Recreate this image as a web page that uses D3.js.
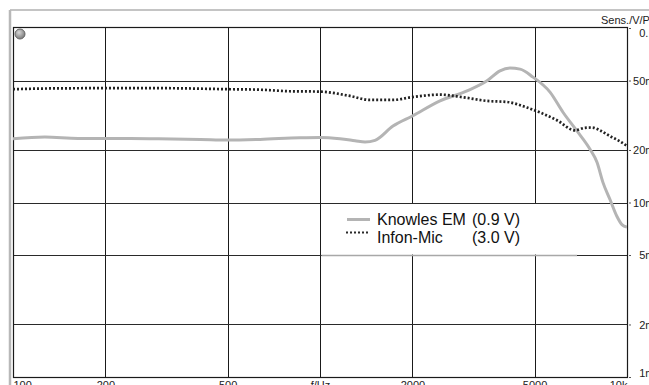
<!DOCTYPE html>
<html>
<head>
<meta charset="utf-8">
<script src="https://cdn.jsdelivr.net/npm/d3@7/dist/d3.min.js"></script>
<style>
  html, body { margin: 0; padding: 0; background: #fff; overflow: hidden; }
  svg { display: block; font-family: "Liberation Sans", Arial, sans-serif; }
</style>
</head>
<body>
<script>
// Frequency axis (Hz) and sensitivity axis (V/Pa)
const xTickValues = [100, 200, 500, 1000, 2000, 5000, 10000];
const xTickLabels = ["100", "200", "500", "f/Hz", "2000", "5000", "10k"];
const yTickValues = [0.001, 0.002, 0.005, 0.01, 0.02, 0.05, 0.1];
const yTickLabels = ["1m", "2m", "5m", "10m", "20m", "50m", "0.1"];

// Knowles EM electret capsule, 0.9 V supply
const knowlesFreq = [100, 127, 163, 200, 279, 407, 500, 638, 861, 1000, 1162, 1300, 1402, 1511, 1729, 2000, 2460, 3013, 3500, 3857, 4158, 4483, 4942, 5613, 6187, 6872, 7577, 7985, 8354, 8803, 9276, 9628, 10000];
const knowlesSens = [0.0232, 0.0237, 0.0233, 0.0233, 0.0232, 0.0230, 0.0228, 0.0230, 0.0235, 0.0236, 0.0232, 0.0226, 0.0222, 0.0227, 0.0274, 0.0313, 0.0382, 0.0436, 0.0498, 0.0568, 0.0589, 0.0581, 0.0523, 0.0429, 0.0329, 0.0257, 0.0202, 0.0170, 0.0130, 0.0104, 0.00831, 0.00747, 0.00723];

// Infon-Mic, 3.0 V supply
const infonFreq = [100, 127, 200, 301, 500, 638, 798, 1000, 1252, 1455, 1729, 1964, 2460, 2923, 3500, 4064, 4723, 5208, 5914, 6771, 7300, 7690, 8166, 8803, 9490, 10000];
const infonSens = [0.0446, 0.0450, 0.0452, 0.0452, 0.0446, 0.0443, 0.0434, 0.0432, 0.0408, 0.0387, 0.0387, 0.0400, 0.0415, 0.0401, 0.0382, 0.0377, 0.0350, 0.0328, 0.0296, 0.0259, 0.0268, 0.0269, 0.0259, 0.0240, 0.0224, 0.0211];

const seriesNames = ["Knowles EM", "Infon-Mic"];
const seriesVolts = ["(0.9 V)", "(3.0 V)"];

const W = 649, H = 385;
const plot = { left: 13, right: 627, top: 27, bottom: 377 };

const svg = d3.select("body").append("svg")
  .attr("width", W).attr("height", H);

const x = d3.scaleLog().domain([100, 10000]).range([plot.left, plot.right]);
const y = d3.scaleLog().domain([0.001, 0.1]).range([plot.bottom, 28]);

// window frame
svg.append("line").attr("x1", 10).attr("x2", W).attr("y1", 10).attr("y2", 10)
  .attr("stroke", "#b0b0b0").attr("stroke-width", 1.5);
svg.append("line").attr("x1", 10).attr("x2", 10).attr("y1", 10).attr("y2", H)
  .attr("stroke", "#b8b8b8").attr("stroke-width", 2.5);

// grid
const grid = svg.append("g");
grid.selectAll("line.v").data(xTickValues).join("line")
  .attr("x1", d => Math.round(x(d)) + 0.5).attr("x2", d => Math.round(x(d)) + 0.5)
  .attr("y1", plot.top).attr("y2", plot.bottom)
  .attr("stroke", "#1a1a1a").attr("stroke-width", 1);
grid.selectAll("line.h").data(yTickValues.slice(1, -1)).join("line")
  .attr("x1", plot.left).attr("x2", plot.right)
  .attr("y1", d => Math.round(y(d)) + 0.5).attr("y2", d => Math.round(y(d)) + 0.5)
  .attr("stroke", "#2a2a2a").attr("stroke-width", 1.2);
grid.append("rect")
  .attr("x", plot.left + 0.5).attr("y", plot.top + 0.5)
  .attr("width", plot.right - plot.left).attr("height", plot.bottom - plot.top)
  .attr("fill", "none").attr("stroke", "#1a1a1a").attr("stroke-width", 1.2);

// status indicator
const grad = svg.append("defs").append("radialGradient").attr("id", "led")
  .attr("cx", "40%").attr("cy", "35%").attr("r", "65%");
grad.append("stop").attr("offset", "0%").attr("stop-color", "#d8d8d8");
grad.append("stop").attr("offset", "100%").attr("stop-color", "#7a7a7a");
svg.append("circle").attr("cx", 20).attr("cy", 34).attr("r", 5)
  .attr("fill", "url(#led)").attr("stroke", "#666").attr("stroke-width", 1);

// legend background (covers the grid in its cell)
const legendX = x(1000) + 1.5, legendY = y(0.01) + 1.5;
svg.append("rect")
  .attr("x", legendX).attr("y", legendY)
  .attr("width", plot.right - legendX - 0.5).attr("height", y(0.005) - legendY - 0.5)
  .attr("fill", "#fff");
svg.append("line")
  .attr("x1", legendX).attr("x2", 577)
  .attr("y1", Math.round(y(0.005)) + 0.5).attr("y2", Math.round(y(0.005)) + 0.5)
  .attr("stroke", "#a8a8a8").attr("stroke-width", 1.4);

// axes (labels only)
const yAxis = d3.axisRight(y).tickValues(yTickValues)
  .tickFormat((d, i) => yTickLabels[i]).tickSize(2).tickPadding(0);
const yG = svg.append("g").attr("transform", `translate(${plot.right + 2},0)`).call(yAxis);
yG.select(".domain").remove();
yG.selectAll(".tick line").attr("stroke", "#555");
yG.selectAll(".tick text")
  .attr("x", 25.5).attr("text-anchor", "end").attr("fill", "#222")
  .style("font-size", "11px").style("font-family", "Liberation Sans, Arial, sans-serif")
  .attr("dy", (d, i) => i === 0 ? "-0.05em" : (i === yTickValues.length - 1 ? "0.75em" : "0.32em"));

const xAxis = d3.axisBottom(x).tickValues(xTickValues)
  .tickFormat((d, i) => xTickLabels[i]).tickSize(0).tickPadding(0);
const xG = svg.append("g").attr("transform", `translate(0,${plot.bottom})`).call(xAxis);
xG.select(".domain").remove();
xG.selectAll(".tick text")
  .attr("y", 11.5).attr("dy", 0).attr("fill", "#222")
  .style("font-size", "11px").style("font-family", "Liberation Sans, Arial, sans-serif")
  .attr("text-anchor", (d, i) => i === 0 ? "start" : (i === xTickValues.length - 1 ? "end" : "middle"));

svg.append("text").attr("x", 601).attr("y", 24)
  .attr("fill", "#222").style("font-size", "11px").text("Sens./V/Pa");

// curves
const clip = svg.append("clipPath").attr("id", "plotClip").append("rect")
  .attr("x", plot.left).attr("y", plot.top).attr("width", plot.right - plot.left).attr("height", plot.bottom - plot.top);

const line = d3.line().x(d => x(d[0])).y(d => y(d[1])).curve(d3.curveMonotoneX);
const curves = svg.append("g").attr("clip-path", "url(#plotClip)");
curves.append("path").datum(d3.zip(knowlesFreq, knowlesSens))
  .attr("d", line).attr("fill", "none")
  .attr("stroke", "#b4b4b4").attr("stroke-width", 3).attr("stroke-linejoin", "round");
curves.append("path").datum(d3.zip(infonFreq, infonSens))
  .attr("d", line).attr("fill", "none")
  .attr("stroke", "#222").attr("stroke-width", 2.7).attr("stroke-dasharray", "2,2");

// legend entries
const leg = svg.append("g");
leg.append("line").attr("x1", 347).attr("x2", 370).attr("y1", 219.5).attr("y2", 219.5)
  .attr("stroke", "#b4b4b4").attr("stroke-width", 3);
leg.append("line").attr("x1", 346).attr("x2", 370).attr("y1", 232.5).attr("y2", 232.5)
  .attr("stroke", "#2a2a2a").attr("stroke-width", 2).attr("stroke-dasharray", "2,2");
[0, 1].forEach(i => {
  leg.append("text").attr("x", 377).attr("y", 225 + i * 17.7)
    .attr("fill", "#111").style("font-size", "16px").text(seriesNames[i]);
  leg.append("text").attr("x", 472).attr("y", 225 + i * 17.7)
    .attr("fill", "#111").style("font-size", "16px").text(seriesVolts[i]);
});
</script>
</body>
</html>
